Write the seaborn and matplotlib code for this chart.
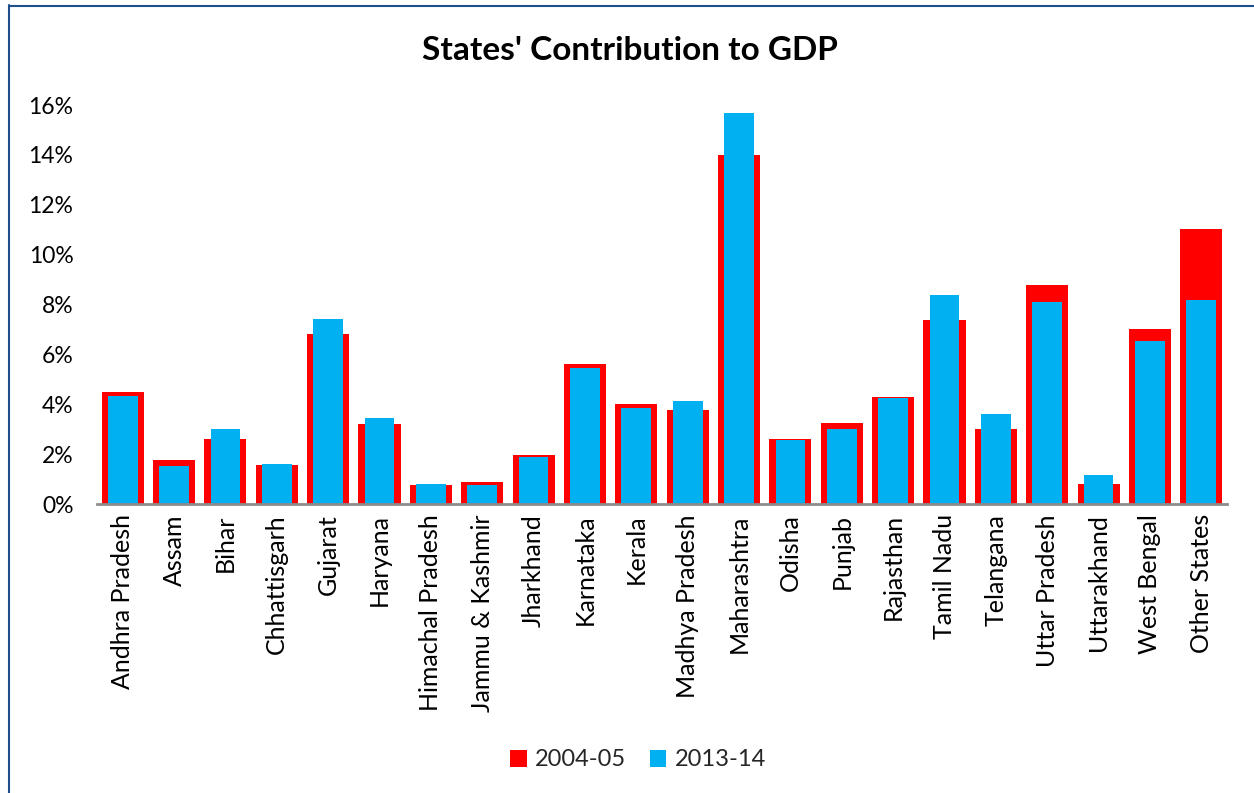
import matplotlib
matplotlib.use("Agg")
import matplotlib.pyplot as plt
import seaborn as sns
from matplotlib.ticker import PercentFormatter
from matplotlib.patches import Patch
from matplotlib.lines import Line2D

states = ["Andhra Pradesh", "Assam", "Bihar", "Chhattisgarh", "Gujarat", "Haryana",
          "Himachal Pradesh", "Jammu & Kashmir", "Jharkhand", "Karnataka", "Kerala",
          "Madhya Pradesh", "Maharashtra", "Odisha", "Punjab", "Rajasthan", "Tamil Nadu",
          "Telangana", "Uttar Pradesh", "Uttarakhand", "West Bengal", "Other States"]
v2004 = [0.0452, 0.0178, 0.0261, 0.0159, 0.0684, 0.0321, 0.0078, 0.0089, 0.0198, 0.0561,
         0.0401, 0.0378, 0.1400, 0.0261, 0.0325, 0.0429, 0.0739, 0.0302, 0.0879, 0.0082,
         0.0702, 0.1103]
v2013 = [0.0436, 0.0154, 0.0302, 0.0164, 0.0744, 0.0345, 0.0081, 0.0078, 0.0190, 0.0548,
         0.0385, 0.0414, 0.1567, 0.0257, 0.0301, 0.0425, 0.0838, 0.0361, 0.0812, 0.0118,
         0.0654, 0.0819]
series_labels = ["2004-05", "2013-14"]
red = "#FF0000"
blue = "#00B0F0"

sns.set_theme(style="white")
plt.rcParams['font.family'] = ['Lato', 'DejaVu Sans']

fig = plt.figure(figsize=(12.54, 7.93), dpi=100)
ax = fig.add_axes([97/1254, 1-504.5/793, (1227-97)/1254, (504.5-105)/793])

sns.barplot(x=states, y=v2004, color=red, width=0.82, saturation=1, linewidth=0, ax=ax)
sns.barplot(x=states, y=v2013, color=blue, width=0.58, saturation=1, linewidth=0, ax=ax)

ax.set_xlim(-0.5, len(states) - 0.5)
ax.set_ylim(0, 0.16)
ax.set_yticks([i * 0.02 for i in range(9)])
ax.yaxis.set_major_formatter(PercentFormatter(1.0, decimals=0))
ax.tick_params(axis='y', labelsize=16.5, length=0, pad=17, colors='black')
ax.tick_params(axis='x', labelsize=18, length=0, pad=7, colors='black')
for lab in ax.get_xticklabels():
    lab.set_rotation(90)
for s in ['top', 'right', 'left']:
    ax.spines[s].set_visible(False)
ax.spines['bottom'].set_color('#8C8C8C')
ax.spines['bottom'].set_linewidth(2)
ax.set_xlabel("")
ax.set_ylabel("")

fig.text(630/1254, 1-51/793, "States' Contribution to GDP", ha='center', va='center',
         fontsize=24, fontweight='bold', color='black')

handles = [Patch(facecolor=red, edgecolor='none', label=series_labels[0]),
           Patch(facecolor=blue, edgecolor='none', label=series_labels[1])]
fig.legend(handles=handles, loc='center', bbox_to_anchor=(638/1254, 1-760/793), ncol=2,
           frameon=False, fontsize=17, handlelength=0.7, handleheight=0.7,
           handletextpad=0.35, columnspacing=1.0)

bc = '#1F4E8C'
fig.add_artist(Line2D([8.5/1254, 8.5/1254], [0, 1-5/793], transform=fig.transFigure, color=bc, lw=1.5))
fig.add_artist(Line2D([8.5/1254, 1], [1-5.5/793, 1-5.5/793], transform=fig.transFigure, color=bc, lw=1.5))

fig.savefig("out.png", dpi=100)
